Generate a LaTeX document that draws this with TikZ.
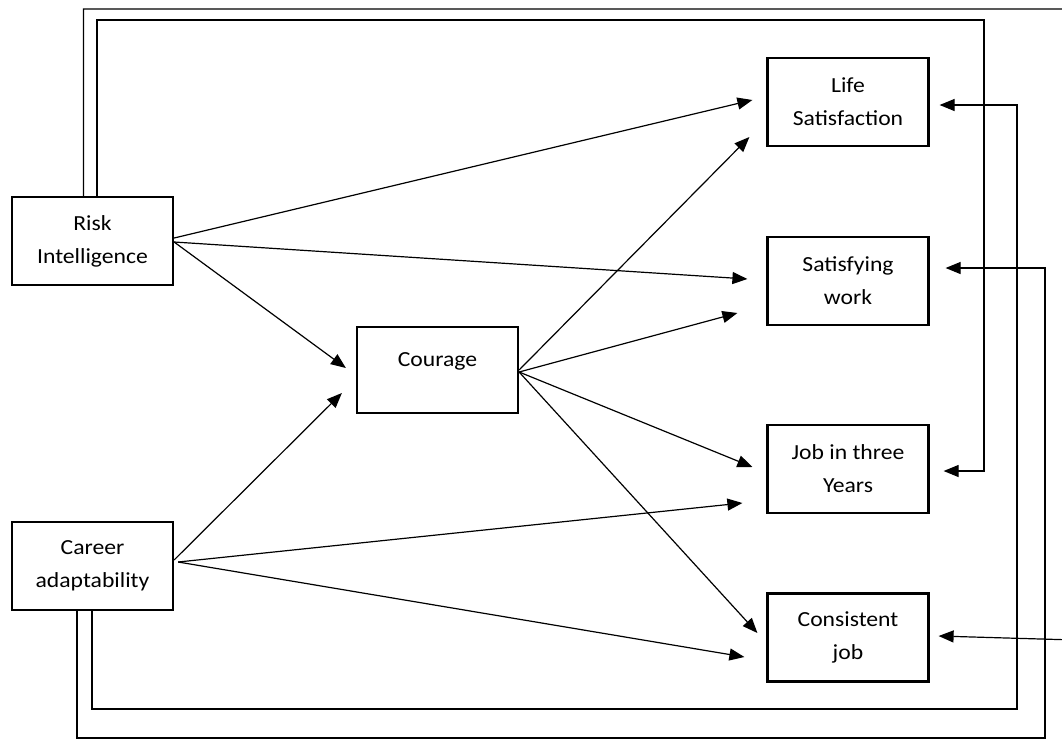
\documentclass[tikz,border=0pt]{standalone}
\usepackage{fontspec}
\newfontfamily\boxfont[FakeStretch=1.1]{Carlito}
\usetikzlibrary{arrows.meta,calc}
\begin{document}
\begin{tikzpicture}[x=1pt,y=-1pt,
  box/.style={draw, line width=2.2pt, minimum width=161pt, minimum height=88pt,
    inner sep=0pt, align=center, font=\boxfont\fontsize{21.5}{33}\selectfont},
  conn/.style={line width=1.2pt, -{Triangle[length=15pt,width=12pt]}},
  fb/.style={line width=1.2pt}]
\useasboundingbox (0,0) rectangle (1062,740);
% boxes
\node[box] (RI) at (92.5,241) {Risk\\Intelligence};
\node[box] (CA) at (92.5,566) {Career\\adaptability};
\node[box, minimum height=86pt, text height=10pt, text depth=16.6pt] (CO) at (437.5,370) {Courage};
\node[box] (LS) at (848,102) {Life\\Satisfaction};
\node[box] (SW) at (848,281) {Satisfying\\work};
\node[box] (JY) at (848,469) {Job in three\\Years};
\node[box] (CJ) at (848,637.5) {Consistent\\job};
% direct paths
\draw[conn] ([shift={(0,-3)}]RI.east) -- ([shift={(-14,-2)}]LS.west);
\draw[conn] ([shift={(0,1)}]RI.east) -- ([shift={(-19,-2)}]SW.west);
\draw[conn] ([shift={(0,1)}]RI.east) -- ([shift={(-10,-2)}]CO.west);
\draw[conn] ([shift={(0,-6)}]CA.east) -- ([shift={(-14,23)}]CO.west);
\draw[conn] ([shift={(4,-4)}]CA.east) -- ([shift={(-24,34)}]JY.west);
\draw[conn] ([shift={(4,-4)}]CA.east) -- ([shift={(-22,19.5)}]CJ.west);
\draw[conn] (CO.east) -- ([shift={(-17,35)}]LS.west);
\draw[conn] ([shift={(0,2)}]CO.east) -- ([shift={(-29,32)}]SW.west);
\draw[conn] ([shift={(0,2)}]CO.east) -- ([shift={(-14,-2)}]JY.west);
\draw[conn] ([shift={(0,2)}]CO.east) -- ([shift={(-9,-4.5)}]CJ.west);
% feedback loops
\draw[conn] ([shift={(-9,0)}]RI.north) |- (1075,9) -- (1075,640) -- ([shift={(9,-1.5)}]CJ.east);
\draw[conn] ([shift={(4.5,0)}]RI.north) |- (984,20) |- ([shift={(14,2)}]JY.east);
\draw[conn] ([shift={(-0.5,0)}]CA.south) |- (1017,709) |- ([shift={(10,3)}]LS.east);
\draw[conn] ([shift={(-15.5,0)}]CA.south) |- (1045,738) |- ([shift={(16,-13)}]SW.east);
\end{tikzpicture}
\end{document}
